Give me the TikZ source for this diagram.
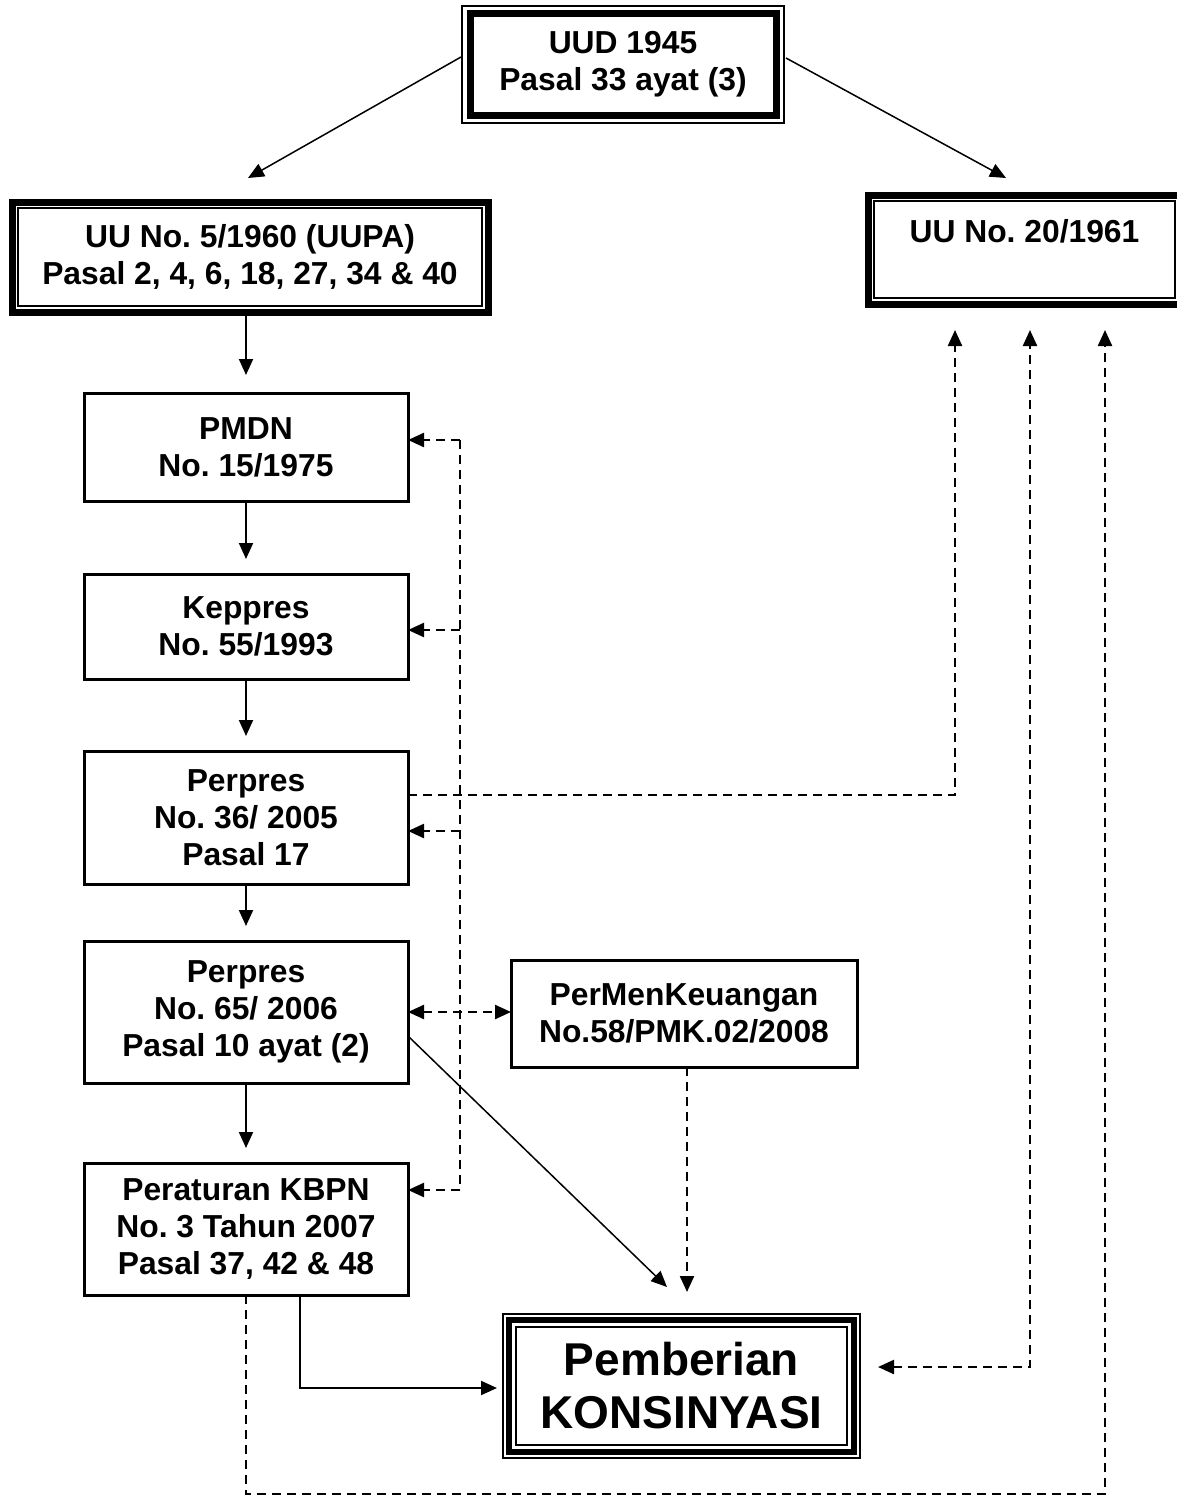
\documentclass[tikz,border=0pt]{standalone}
\usepackage{fontspec}
\setmainfont{Liberation Sans}
\usetikzlibrary{arrows.meta,calc}
\frenchspacing
\begin{document}
\begin{tikzpicture}[x=1pt,y=-1pt,
  tip/.tip={Triangle[length=16pt,width=14pt]},
  txt/.style={font=\fontsize{31.8}{37}\selectfont\bfseries, align=center},
  plainbox/.style={draw, line width=3pt, rectangle, inner sep=0pt, outer sep=0pt, txt},
  thickbox/.style={draw, line width=7pt, rectangle, inner sep=0pt, outer sep=0pt, txt},
  arr/.style={line width=2pt, -tip},
  thinarr/.style={line width=1.5pt, -tip},
  darr/.style={line width=2.3pt, dash pattern=on 9pt off 6pt, -tip},
  dline/.style={line width=2.3pt, dash pattern=on 9pt off 6pt},
  thinline/.style={line width=1.5pt}
]
\useasboundingbox (0,0) rectangle (1177,1496);
\clip (0,0) rectangle (1177,1496);

% boxes
\node[thickbox, minimum width=306pt, minimum height=101pt] (uud) at (623,64.5) {UUD 1945\\Pasal 33 ayat (3)};
\draw[thinline] ($(uud.north west)+(-8,-8)$) rectangle ($(uud.south east)+(8,8)$);

\node[thickbox, minimum width=476pt, minimum height=110pt] (uupa) at (250,257) {UU No. 5/1960 (UUPA)\\Pasal 2, 4, 6, 18, 27, 34 \& 40};
\draw[thinline] ($(uupa.north west)+(6,6)$) rectangle ($(uupa.south east)+(-6,-6)$);

\node[thickbox, minimum width=313pt, minimum height=109pt] (uu20) at (1024.5,249.5) {UU No. 20/1961\\\mbox{}};
\draw[thinline] ($(uu20.north west)+(6,6)$) rectangle ($(uu20.south east)+(-6,-6)$);

\node[plainbox, minimum width=324pt, minimum height=108pt] (pmdn) at (246,447) {PMDN\\No. 15/1975};
\node[plainbox, minimum width=324pt, minimum height=105pt] (keppres) at (246,626.5) {Keppres\\No. 55/1993};
\node[plainbox, minimum width=324pt, minimum height=133pt] (perpres36) at (246,817.5) {Perpres\\No. 36/ 2005\\Pasal 17};
\node[plainbox, minimum width=324pt, minimum height=142pt] (perpres65) at (246,1012) {Perpres\\No. 65/ 2006\\Pasal 10 ayat (2)};
\node[plainbox, minimum width=324pt, minimum height=132pt] (kbpn) at (246,1229) {Peraturan KBPN\\No. 3 Tahun 2007\\Pasal 37, 42 \& 48};
\node[plainbox, minimum width=346pt, minimum height=107pt] (pmk) at (684,1013.5) {PerMenKeuangan\\No.58/PMK.02/2008};

\node[draw, line width=6pt, rectangle, inner sep=0pt, outer sep=0pt, align=center,
  font=\fontsize{46}{53}\selectfont\bfseries,
  minimum width=345pt, minimum height=132pt] (kons) at (681.5,1386) {Pemberian\\KONSINYASI};
\draw[thinline] ($(kons.north west)+(-6,-6)$) rectangle ($(kons.south east)+(6,6)$);
\draw[thinline] ($(kons.north west)+(7,7)$) rectangle ($(kons.south east)+(-7,-7)$);

% coordinates
\coordinate (t1) at (955,330);
\coordinate (t2) at (1030,330);
\coordinate (t3) at (1105,330);
\coordinate (b1) at (460,440);
\coordinate (b2) at (460,630);
\coordinate (b3) at (460,831);
\coordinate (b4) at (460,1190);
\coordinate (cb) at (1105,1494);

% top arrows
\draw[thinarr] ($(uud.west)+(-9,-7.5)$) -- ($(uupa.north)+(-2,-24)$);
\draw[thinarr] ($(uud.east)+(10,-6.5)$) -- ($(uu20.north)+(-18.5,-17)$);

% vertical chain
\draw[arr] (pmdn.north |- uupa.south) -- ($(pmdn.north)+(0,-18)$);
\draw[arr] (pmdn.south) -- ($(keppres.north)+(0,-15)$);
\draw[arr] (keppres.south) -- ($(perpres36.north)+(0,-15)$);
\draw[arr] (perpres36.south) -- ($(perpres65.north)+(0,-15)$);
\draw[arr] (perpres65.south) -- ($(kbpn.north)+(0,-15)$);

% dashed bracket
\draw[dline] (b1) -- (b4);
\draw[darr] (b1) -- (pmdn.east |- b1);
\draw[darr] (b2) -- (keppres.east |- b2);
\draw[darr] (b3) -- (perpres36.east |- b3);
\draw[darr] (b4) -- (kbpn.east |- b4);

% double arrow
\draw[dline, tip-tip] (perpres65.east) -- (pmk.west |- perpres65.east);

% to UU 20/1961
\draw[darr] ($(perpres36.east)+(0,-22.5)$) -| (t1);
\draw[dline, tip-tip] ($(kons.east)+(24,-19)$) -| (t2);
\draw[darr] (kbpn.south) |- (cb) -- (t3);

% to Pemberian
\draw[arr] ($(kbpn.south)+(54,0)$) |- ($(kons.west)+(-12,2)$);
\draw[thinarr] ($(perpres65.east)+(0,24)$) -- ($(kons.north)+(-14.5,-33)$);
\draw[darr] ($(pmk.south)+(3,0)$) -- ($(kons.north)+(5.5,-28)$);
\end{tikzpicture}
\end{document}
